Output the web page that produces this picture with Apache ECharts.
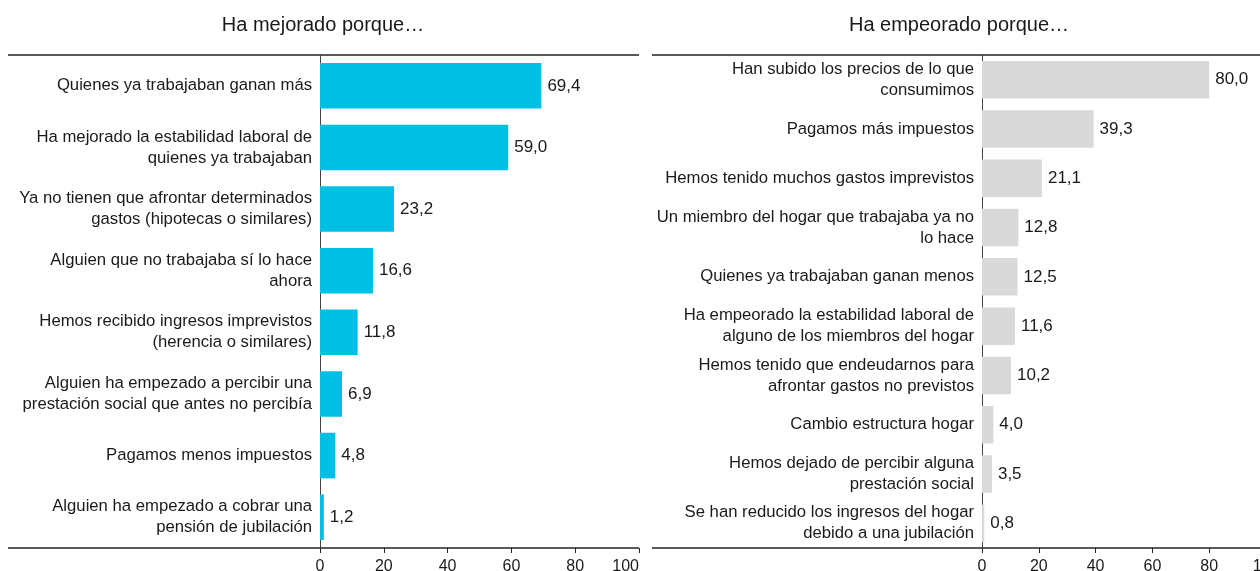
<!DOCTYPE html>
<html>
<head>
<meta charset="utf-8">
<script src="https://cdn.jsdelivr.net/npm/echarts@6/dist/echarts.min.js"></script>
<style>
  html, body { margin: 0; padding: 0; background: #fff; }
  #chart { width: 1260px; height: 571px; }
</style>
</head>
<body>
<div id="chart"></div>
<script>
const FONT = "'Liberation Sans', Arial, Helvetica, sans-serif"

const mejoradoCats = [
  'Quienes ya trabajaban ganan más',
  'Ha mejorado la estabilidad laboral de\nquienes ya trabajaban',
  'Ya no tienen que afrontar determinados\ngastos (hipotecas o similares)',
  'Alguien que no trabajaba sí lo hace\nahora',
  'Hemos recibido ingresos imprevistos\n(herencia o similares)',
  'Alguien ha empezado a percibir una\nprestación social que antes no percibía',
  'Pagamos menos impuestos',
  'Alguien ha empezado a cobrar una\npensión de jubilación'
]
const mejoradoVals = [69.4, 59.0, 23.2, 16.6, 11.8, 6.9, 4.8, 1.2]

const empeoradoCats = [
  'Han subido los precios de lo que\nconsumimos',
  'Pagamos más impuestos',
  'Hemos tenido muchos gastos imprevistos',
  'Un miembro del hogar que trabajaba ya no\nlo hace',
  'Quienes ya trabajaban ganan menos',
  'Ha empeorado la estabilidad laboral de\nalguno de los miembros del hogar',
  'Hemos tenido que endeudarnos para\nafrontar gastos no previstos',
  'Cambio estructura hogar',
  'Hemos dejado de percibir alguna\nprestación social',
  'Se han reducido los ingresos del hogar\ndebido a una jubilación'
]
const empeoradoVals = [80.0, 39.3, 21.1, 12.8, 12.5, 11.6, 10.2, 4.0, 3.5, 0.8]

const xTicks = [0, 20, 40, 60, 80, 100]

const fmt = v => v.toFixed(1).replace('.', ',')

function xAxisFor(idx, alignMax) {
  return {
    type: 'value',
    gridIndex: idx,
    min: xTicks[0],
    max: xTicks[xTicks.length - 1],
    interval: xTicks[1] - xTicks[0],
    axisLine: { show: false },
    axisTick: { show: true, length: 5, lineStyle: { color: '#222' } },
    splitLine: { show: false },
    axisLabel: {
      margin: 11, color: '#1a1a1a', fontSize: 16, fontFamily: FONT,
      alignMaxLabel: alignMax
    }
  }
}

function yAxisFor(idx, cats) {
  return {
    type: 'category',
    gridIndex: idx,
    data: cats,
    inverse: true,
    axisLine: { show: true, lineStyle: { color: '#444', width: 1 } },
    axisTick: { show: false },
    axisLabel: {
      margin: 8, color: '#1a1a1a', fontSize: 16.7, fontFamily: FONT,
      lineHeight: 21, align: 'right'
    }
  }
}

function hline(x1, x2, y) {
  return {
    type: 'line',
    shape: { x1: x1, y1: y, x2: x2, y2: y },
    style: { stroke: '#222', lineWidth: 1.3 },
    silent: true
  }
}

const chart = echarts.init(document.getElementById('chart'))

chart.setOption({
  backgroundColor: '#fff',
  animation: false,
  textStyle: { fontFamily: FONT },
  grid: [
    { left: 320, top: 55, width: 319, height: 493, outerBoundsMode: 'none', containLabel: false },
    { left: 982, top: 55, width: 284, height: 493, outerBoundsMode: 'none', containLabel: false }
  ],
  xAxis: [xAxisFor(0, 'right'), xAxisFor(1, null)],
  yAxis: [yAxisFor(0, mejoradoCats), yAxisFor(1, empeoradoCats)],
  series: [
    {
      type: 'bar',
      xAxisIndex: 0,
      yAxisIndex: 0,
      data: mejoradoVals,
      barCategoryGap: '26%',
      itemStyle: { color: '#00bfe4' },
      label: {
        show: true, position: 'right', distance: 6,
        color: '#1a1a1a', fontSize: 17, fontFamily: FONT,
        formatter: p => fmt(p.value)
      }
    },
    {
      type: 'bar',
      xAxisIndex: 1,
      yAxisIndex: 1,
      data: empeoradoVals,
      barCategoryGap: '24%',
      itemStyle: { color: '#d9d9d9' },
      label: {
        show: true, position: 'right', distance: 6,
        color: '#1a1a1a', fontSize: 17, fontFamily: FONT,
        formatter: p => fmt(p.value)
      }
    }
  ],
  graphic: [
    {
      type: 'text', x: 323, y: 25,
      style: {
        text: 'Ha mejorado porque…', fill: '#1a1a1a',
        font: '20px ' + FONT, textAlign: 'center', textVerticalAlign: 'middle'
      }
    },
    {
      type: 'text', x: 959, y: 25,
      style: {
        text: 'Ha empeorado porque…', fill: '#1a1a1a',
        font: '20px ' + FONT, textAlign: 'center', textVerticalAlign: 'middle'
      }
    },
    hline(8, 639, 55),
    hline(8, 639, 548),
    hline(652, 1260, 55),
    hline(652, 1260, 548)
  ]
})
</script>
</body>
</html>
